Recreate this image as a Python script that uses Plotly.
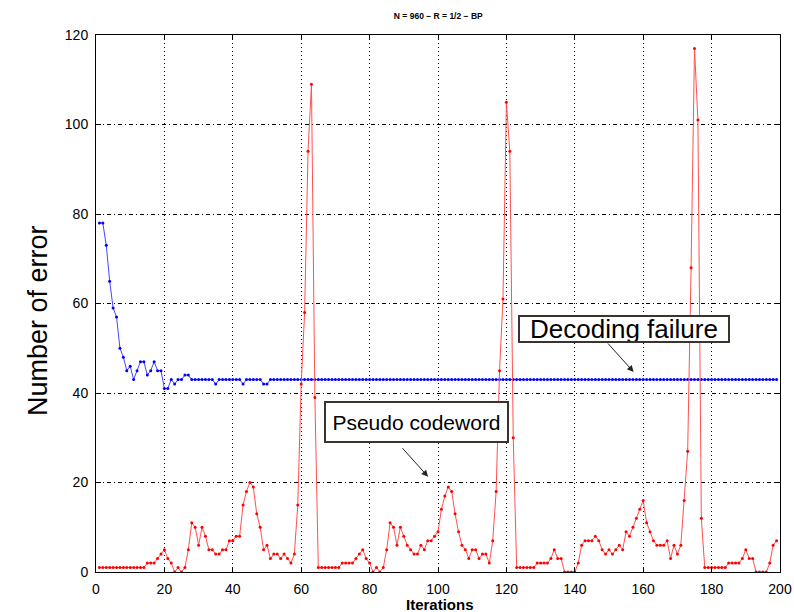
import plotly.graph_objects as go

iterations = list(range(1, 200))

blue_errors = [
    78, 78, 73, 65, 59, 57, 50, 48, 45, 46,
    43, 45, 47, 47, 44, 45, 47, 45, 45, 41,
    41, 43, 42, 43, 43, 44, 44, 43, 43, 43,
    43, 43, 43, 43, 42, 43, 43, 43, 43, 43,
    43, 43, 42, 43, 43, 43, 43, 43, 42, 42,
    43, 43, 43, 43, 43, 43, 43, 43, 43, 43,
    43, 43, 43, 43, 43, 43, 43, 43, 43, 43,
    43, 43, 43, 43, 43, 43, 43, 43, 43, 43,
    43, 43, 43, 43, 43, 43, 43, 43, 43, 43,
    43, 43, 43, 43, 43, 43, 43, 43, 43, 43,
    43, 43, 43, 43, 43, 43, 43, 43, 43, 43,
    43, 43, 43, 43, 43, 43, 43, 43, 43, 43,
    43, 43, 43, 43, 43, 43, 43, 43, 43, 43,
    43, 43, 43, 43, 43, 43, 43, 43, 43, 43,
    43, 43, 43, 43, 43, 43, 43, 43, 43, 43,
    43, 43, 43, 43, 43, 43, 43, 43, 43, 43,
    43, 43, 43, 43, 43, 43, 43, 43, 43, 43,
    43, 43, 43, 43, 43, 43, 43, 43, 43, 43,
    43, 43, 43, 43, 43, 43, 43, 43, 43, 43,
    43, 43, 43, 43, 43, 43, 43, 43, 43,
]

red_errors = [
    1, 1, 1, 1, 1, 1, 1, 1, 1, 1,
    1, 1, 1, 1, 2, 2, 2, 3, 4, 5,
    3, 2, 0, 1, 0, 1, 5, 11, 10, 6,
    10, 8, 5, 5, 4, 4, 5, 5, 7, 7,
    8, 8, 15, 18, 20, 19, 13, 10, 5, 6,
    3, 4, 4, 3, 4, 3, 2, 4, 15, 42,
    58, 94, 109, 39, 1, 1, 1, 1, 1, 1,
    1, 2, 2, 2, 2, 3, 4, 5, 3, 2,
    0, 1, 0, 1, 5, 11, 10, 6, 10, 8,
    6, 5, 4, 4, 6, 5, 7, 7, 8, 9,
    14, 17, 19, 18, 13, 9, 6, 5, 3, 5,
    5, 3, 4, 4, 2, 7, 18, 45, 61, 105,
    94, 30, 1, 1, 1, 1, 1, 1, 2, 2,
    2, 2, 3, 5, 3, 3, 0, 0, 0, 0,
    2, 6, 7, 7, 7, 8, 7, 5, 4, 5,
    4, 5, 6, 5, 9, 8, 10, 12, 14, 16,
    11, 9, 7, 6, 6, 6, 7, 3, 6, 4,
    6, 16, 27, 68, 117, 101, 12, 1, 1, 1,
    1, 1, 1, 1, 2, 2, 2, 2, 3, 5,
    3, 3, 0, 0, 0, 0, 2, 6, 7,
]

x_ticks = [0, 20, 40, 60, 80, 100, 120, 140, 160, 180, 200]
y_ticks = [0, 20, 40, 60, 80, 100, 120]

title_text = "N = 960 \u2212 R = 1/2 \u2212 BP"
x_label = "Iterations"
y_label = "Number of error"
label_failure = "Decoding failure"
label_pseudo = "Pseudo codeword"

FONT = "Liberation Sans, Arial, Helvetica, sans-serif"

fig = go.Figure()
fig.add_trace(go.Scatter(
    x=iterations, y=blue_errors, mode="lines+markers",
    line=dict(color="rgb(70,70,255)", width=1),
    marker=dict(color="rgb(0,0,255)", size=3),
    showlegend=False, hoverinfo="skip",
))
fig.add_trace(go.Scatter(
    x=iterations, y=red_errors, mode="lines+markers",
    line=dict(color="rgb(255,80,80)", width=1),
    marker=dict(color="rgb(255,0,0)", size=3),
    showlegend=False, hoverinfo="skip",
))

axis_common = dict(
    showline=True, linecolor="black", linewidth=1, mirror="ticks",
    ticks="inside", ticklen=5, tickcolor="black",
    showgrid=True, gridcolor="black", gridwidth=1,
    zeroline=False, automargin=False,
    tickfont=dict(family=FONT, size=14, color="black"),
)

fig.update_layout(
    width=794, height=612, autosize=False,
    margin=dict(l=96, r=14, t=35, b=40, autoexpand=False),
    paper_bgcolor="white", plot_bgcolor="white",
    font=dict(family=FONT, color="black"),
    title=dict(text="<b>" + title_text + "</b>", x=0.552, xanchor="center",
               y=0.974, yanchor="middle", yref="container",
               font=dict(family=FONT, size=8.5, color="black")),
    xaxis=dict(range=[0, 200], tickvals=x_ticks, ticktext=[str(v) for v in x_ticks],
               griddash="1px,3px", ticklabelstandoff=4, **axis_common),
    yaxis=dict(range=[0, 120], tickvals=y_ticks, ticktext=[str(v) for v in y_ticks],
               griddash="4px,3px,1px,3px", ticklabelstandoff=4, **axis_common),
)

annotations = [
    # axis titles
    dict(text="<b>" + x_label + "</b>", xref="paper", yref="paper",
         x=0.503, y=-0.060, xanchor="center", yanchor="middle", showarrow=False,
         font=dict(family=FONT, size=15, color="black")),
    dict(text=y_label, xref="paper", yref="paper", textangle=-90,
         x=-0.085, y=0.469, xanchor="center", yanchor="middle", showarrow=False,
         font=dict(family=FONT, size=27, color="black")),
    # label boxes
    dict(text=label_failure, xref="x", yref="y", x=154.3, y=54.4,
         xanchor="center", yanchor="middle", showarrow=False,
         font=dict(family=FONT, size=26, color="black"),
         bgcolor="white", bordercolor="#3a342c", borderwidth=2, borderpad=0,
         width=208, height=24),
    dict(text=label_pseudo, xref="x", yref="y", x=93.8, y=33.5,
         xanchor="center", yanchor="middle", showarrow=False,
         font=dict(family=FONT, size=21, color="black"),
         bgcolor="white", bordercolor="#3a342c", borderwidth=2, borderpad=2,
         width=177, height=34),
    # arrows
    dict(text="", xref="x", yref="y", x=157.2, y=44.7, ax=-27, ay=-30,
         showarrow=True, arrowhead=2, arrowsize=1.3, arrowwidth=1, arrowcolor="#222"),
    dict(text="", xref="x", yref="y", x=97.1, y=21.3, ax=-27, ay=-30,
         showarrow=True, arrowhead=2, arrowsize=1.3, arrowwidth=1, arrowcolor="#222"),
]
fig.update_layout(annotations=annotations)

post_js = (
    "document.documentElement.style.margin='0';"
    "document.documentElement.style.overflow='hidden';"
    "document.body.style.margin='0';"
    "document.body.style.padding='0';"
    "document.body.style.overflow='hidden';"
    "var gd=document.getElementById('{plot_id}');"
    "Plotly.relayout(gd,{width:794,height:612});"
)

fig.write_html("out.html",
               config={"responsive": False, "displayModeBar": False, "staticPlot": True},
               post_script=post_js)
